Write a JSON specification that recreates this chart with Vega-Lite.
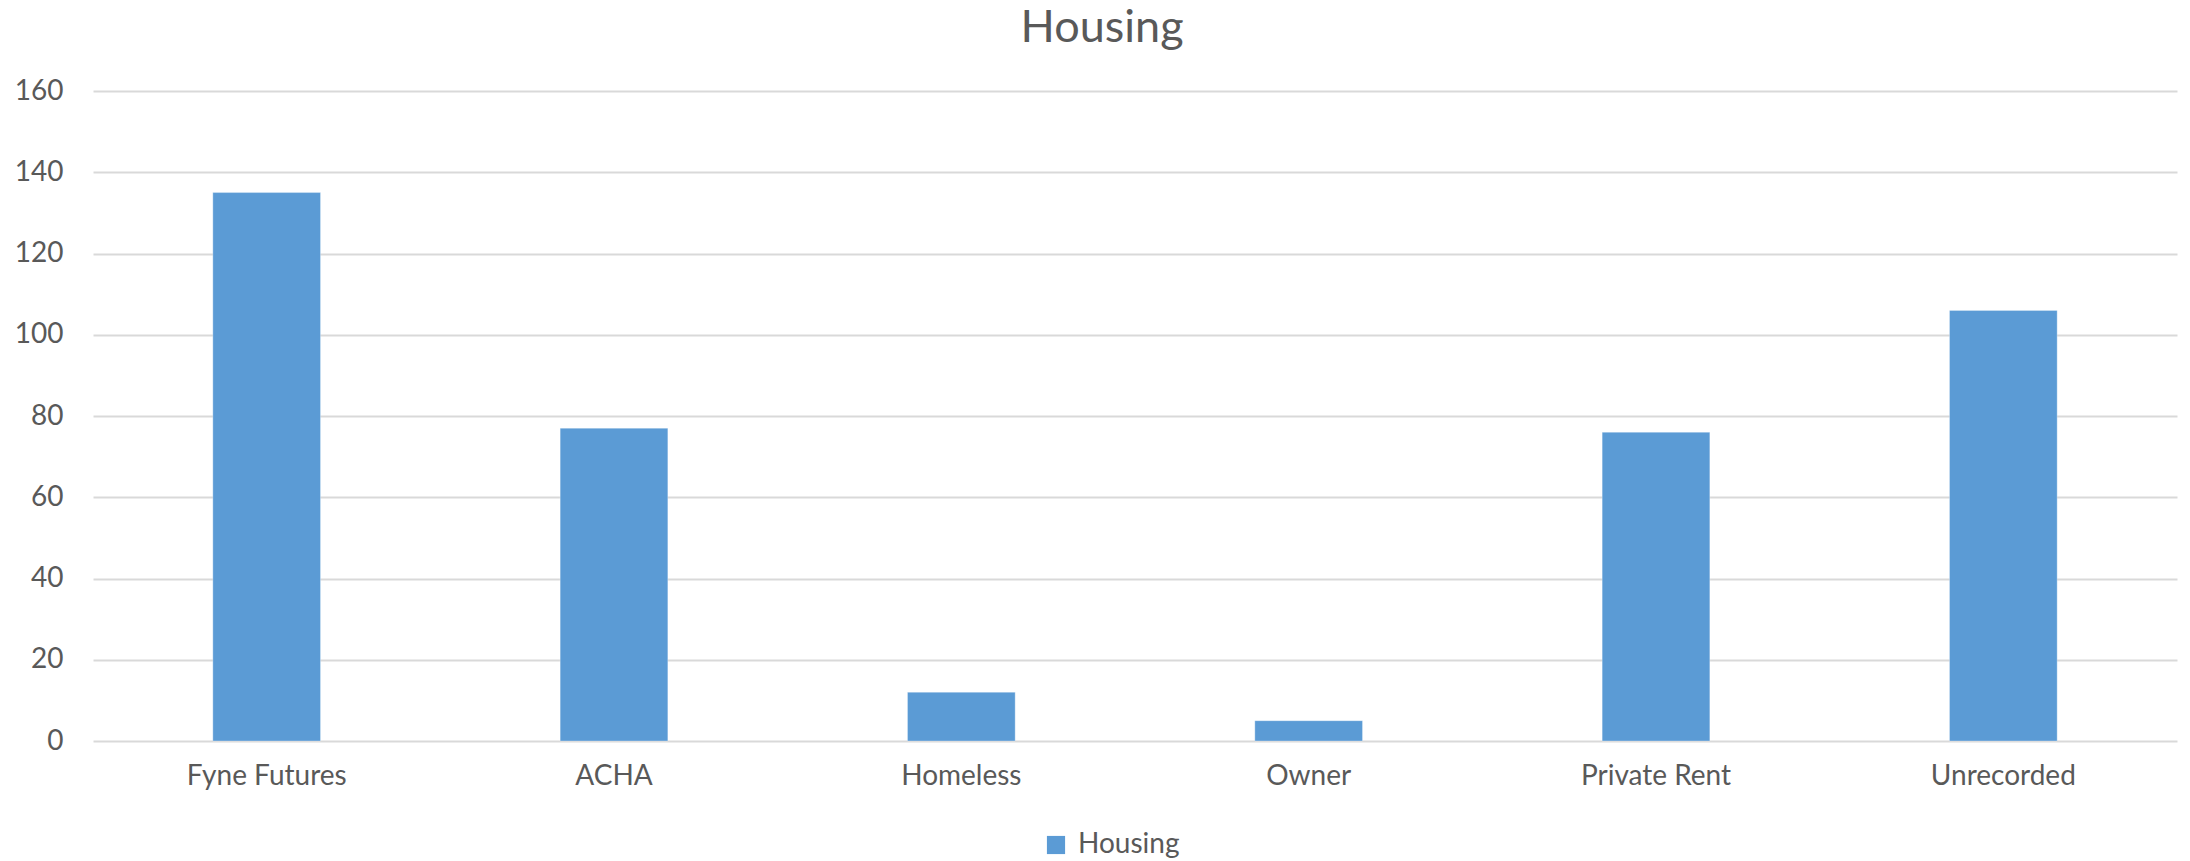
{
  "$schema": "https://vega.github.io/schema/vega-lite/v6.json",
  "autosize": {"type": "none"},
  "padding": {"left": 93, "top": 91, "right": 13, "bottom": 120},
  "width": 2084,
  "height": 650,
  "background": "white",
  "title": {
    "text": "Housing",
    "font": "Lato",
    "fontSize": 45,
    "fontWeight": "normal",
    "color": "#595959",
    "anchor": "middle",
    "dx": -33,
    "offset": 26
  },
  "data": {
    "values": [
      {"category": "Fyne Futures", "value": 135, "series": "Housing"},
      {"category": "ACHA", "value": 77, "series": "Housing"},
      {"category": "Homeless", "value": 12, "series": "Housing"},
      {"category": "Owner", "value": 5, "series": "Housing"},
      {"category": "Private Rent", "value": 76, "series": "Housing"},
      {"category": "Unrecorded", "value": 106, "series": "Housing"}
    ]
  },
  "mark": {"type": "bar", "stroke": "#ffffff", "strokeWidth": 0.5, "strokeOpacity": 0.6},
  "encoding": {
    "x": {
      "field": "category",
      "type": "nominal",
      "sort": null,
      "scale": {"paddingInner": 0.69, "paddingOuter": 0.345},
      "axis": {
        "title": null,
        "labelAngle": 0,
        "labelFont": "Lato",
        "labelFontSize": 28,
        "labelColor": "#595959",
        "labelPadding": 21,
        "domain": false,
        "ticks": false
      }
    },
    "y": {
      "field": "value",
      "type": "quantitative",
      "scale": {"domain": [0, 160], "nice": false},
      "axis": {
        "title": null,
        "values": [0, 20, 40, 60, 80, 100, 120, 140, 160],
        "labelFont": "Lato",
        "labelFontSize": 28,
        "labelColor": "#595959",
        "labelPadding": 30,
        "domain": false,
        "ticks": false,
        "grid": true,
        "gridColor": "#d9d9d9",
        "gridWidth": 2
      }
    },
    "color": {
      "field": "series",
      "type": "nominal",
      "scale": {"range": ["#5b9bd5"]},
      "legend": {
        "title": null,
        "orient": "none",
        "legendX": 949,
        "legendY": 740,
        "symbolType": "square",
        "symbolSize": 330,
        "symbolStrokeWidth": 0,
        "labelFont": "Lato",
        "labelFontSize": 28,
        "labelColor": "#595959",
        "labelOffset": 8
      }
    }
  },
  "config": {"view": {"stroke": null}}
}
